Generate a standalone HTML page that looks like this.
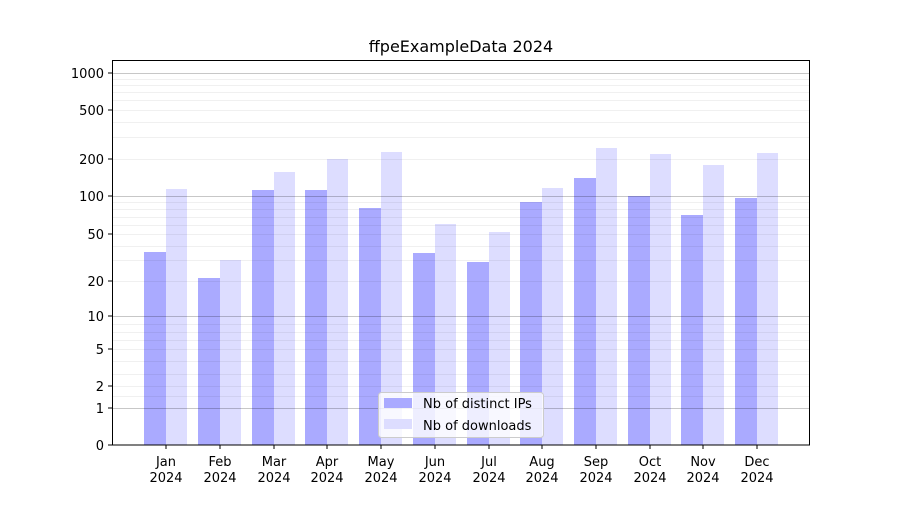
<!DOCTYPE html>
<html><head><style>
body{margin:0;background:#fff;}
text{font-family:"DejaVu Sans","Liberation Sans",sans-serif;font-size:13px;fill:#000;}
</style></head><body>
<svg width="900" height="500" xmlns="http://www.w3.org/2000/svg">
<rect width="900" height="500" fill="#fff"/>
<text x="461" y="52" text-anchor="middle" style="font-size:16px">ffpeExampleData 2024</text>
<g id="bars">
<rect x="144" y="252" width="22" height="193" fill="#aaaaff"/><rect x="166" y="189" width="21" height="256" fill="#ddddff"/>
<rect x="198" y="278" width="22" height="167" fill="#aaaaff"/><rect x="220" y="260" width="21" height="185" fill="#ddddff"/>
<rect x="252" y="190" width="22" height="255" fill="#aaaaff"/><rect x="274" y="172" width="21" height="273" fill="#ddddff"/>
<rect x="305" y="190" width="22" height="255" fill="#aaaaff"/><rect x="327" y="159" width="21" height="286" fill="#ddddff"/>
<rect x="359" y="208" width="22" height="237" fill="#aaaaff"/><rect x="381" y="152" width="21" height="293" fill="#ddddff"/>
<rect x="413" y="253" width="22" height="192" fill="#aaaaff"/><rect x="435" y="224" width="21" height="221" fill="#ddddff"/>
<rect x="467" y="262" width="22" height="183" fill="#aaaaff"/><rect x="489" y="232" width="21" height="213" fill="#ddddff"/>
<rect x="520" y="202" width="22" height="243" fill="#aaaaff"/><rect x="542" y="188" width="21" height="257" fill="#ddddff"/>
<rect x="574" y="178" width="22" height="267" fill="#aaaaff"/><rect x="596" y="148" width="21" height="297" fill="#ddddff"/>
<rect x="628" y="196" width="22" height="249" fill="#aaaaff"/><rect x="650" y="154" width="21" height="291" fill="#ddddff"/>
<rect x="681" y="215" width="22" height="230" fill="#aaaaff"/><rect x="703" y="165" width="21" height="280" fill="#ddddff"/>
<rect x="735" y="198" width="22" height="247" fill="#aaaaff"/><rect x="757" y="153" width="21" height="292" fill="#ddddff"/>
</g>
<g stroke="#000" stroke-opacity="0.06" stroke-width="1">
<line x1="112" x2="810" y1="396.5" y2="396.5"/><line x1="112" x2="810" y1="386.5" y2="386.5"/><line x1="112" x2="810" y1="374.5" y2="374.5"/><line x1="112" x2="810" y1="361.5" y2="361.5"/><line x1="112" x2="810" y1="349.5" y2="349.5"/><line x1="112" x2="810" y1="340.5" y2="340.5"/><line x1="112" x2="810" y1="332.5" y2="332.5"/><line x1="112" x2="810" y1="324.5" y2="324.5"/>
<line x1="112" x2="810" y1="281.5" y2="281.5"/><line x1="112" x2="810" y1="260.5" y2="260.5"/><line x1="112" x2="810" y1="246.5" y2="246.5"/><line x1="112" x2="810" y1="234.5" y2="234.5"/><line x1="112" x2="810" y1="225.5" y2="225.5"/><line x1="112" x2="810" y1="217.5" y2="217.5"/><line x1="112" x2="810" y1="209.5" y2="209.5"/><line x1="112" x2="810" y1="202.5" y2="202.5"/>
<line x1="112" x2="810" y1="159.5" y2="159.5"/><line x1="112" x2="810" y1="137.5" y2="137.5"/><line x1="112" x2="810" y1="122.5" y2="122.5"/><line x1="112" x2="810" y1="110.5" y2="110.5"/><line x1="112" x2="810" y1="100.5" y2="100.5"/><line x1="112" x2="810" y1="92.5" y2="92.5"/><line x1="112" x2="810" y1="85.5" y2="85.5"/><line x1="112" x2="810" y1="79.5" y2="79.5"/>
</g>
<g stroke="#000" stroke-opacity="0.22" stroke-width="1">
<line x1="112" x2="810" y1="408.5" y2="408.5"/><line x1="112" x2="810" y1="316.5" y2="316.5"/><line x1="112" x2="810" y1="196.5" y2="196.5"/><line x1="112" x2="810" y1="73.5" y2="73.5"/>
</g>
<rect x="112.5" y="60.5" width="697" height="384.5" fill="none" stroke="#000"/>
<g stroke="#000">
<line x1="108" x2="112" y1="445" y2="445"/><line x1="108" x2="112" y1="408" y2="408"/><line x1="108" x2="112" y1="386" y2="386"/><line x1="108" x2="112" y1="349" y2="349"/><line x1="108" x2="112" y1="316" y2="316"/><line x1="108" x2="112" y1="281" y2="281"/><line x1="108" x2="112" y1="234" y2="234"/><line x1="108" x2="112" y1="196" y2="196"/><line x1="108" x2="112" y1="159" y2="159"/><line x1="108" x2="112" y1="110" y2="110"/><line x1="108" x2="112" y1="73" y2="73"/>
</g>
<g text-anchor="end">
<text x="104" y="450">0</text><text x="104" y="413">1</text><text x="104" y="391">2</text><text x="104" y="354">5</text><text x="104" y="321">10</text><text x="104" y="286">20</text><text x="104" y="239">50</text><text x="104" y="201">100</text><text x="104" y="164">200</text><text x="104" y="115">500</text><text x="104" y="78">1000</text>
</g>
<g text-anchor="middle">
<text x="166" y="466">Jan</text><text x="166" y="482">2024</text>
<text x="220" y="466">Feb</text><text x="220" y="482">2024</text>
<text x="274" y="466">Mar</text><text x="274" y="482">2024</text>
<text x="327" y="466">Apr</text><text x="327" y="482">2024</text>
<text x="381" y="466">May</text><text x="381" y="482">2024</text>
<text x="435" y="466">Jun</text><text x="435" y="482">2024</text>
<text x="489" y="466">Jul</text><text x="489" y="482">2024</text>
<text x="542" y="466">Aug</text><text x="542" y="482">2024</text>
<text x="596" y="466">Sep</text><text x="596" y="482">2024</text>
<text x="650" y="466">Oct</text><text x="650" y="482">2024</text>
<text x="703" y="466">Nov</text><text x="703" y="482">2024</text>
<text x="757" y="466">Dec</text><text x="757" y="482">2024</text>
</g>
<g stroke="#000">
<line x1="166" x2="166" y1="445" y2="449"/><line x1="220" x2="220" y1="445" y2="449"/><line x1="274" x2="274" y1="445" y2="449"/><line x1="327" x2="327" y1="445" y2="449"/><line x1="381" x2="381" y1="445" y2="449"/><line x1="435" x2="435" y1="445" y2="449"/><line x1="489" x2="489" y1="445" y2="449"/><line x1="542" x2="542" y1="445" y2="449"/><line x1="596" x2="596" y1="445" y2="449"/><line x1="650" x2="650" y1="445" y2="449"/><line x1="703" x2="703" y1="445" y2="449"/><line x1="757" x2="757" y1="445" y2="449"/>
</g>
<rect x="378.5" y="392.5" width="165" height="45" rx="3" fill="#fff" fill-opacity="0.8" stroke="#ccc"/>
<rect x="384" y="398" width="28" height="10" fill="#aaaaff"/>
<text x="423" y="408">Nb of distinct IPs</text>
<rect x="384" y="419" width="28" height="10" fill="#ddddff"/>
<text x="423" y="430">Nb of downloads</text>
</svg>
</body></html>
